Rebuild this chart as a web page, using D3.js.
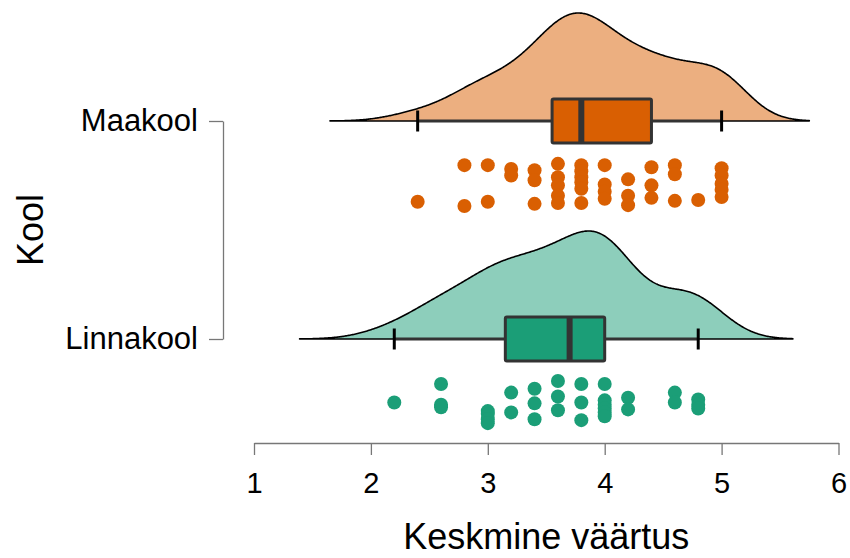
<!DOCTYPE html>
<html>
<head>
<meta charset="utf-8">
<script src="https://cdn.jsdelivr.net/npm/d3@7"></script>
<style>
  html, body { margin: 0; padding: 0; background: #fff; }
  svg { display: block; }
  text { font-family: "Liberation Sans", Arial, sans-serif; fill: #000; }
</style>
</head>
<body>
<svg id="chart" width="850" height="558"></svg>
<script>
// Group names (top to bottom) and colours
const categories = ["Maakool", "Linnakool"];
const groupColors = ["#D95F02", "#1B9E77"];

// Individual mean scores per school
const maakoolValues = [
  2.4,
  2.8, 2.8,
  3.0, 3.0,
  3.2, 3.2,
  3.4, 3.4, 3.4,
  3.6, 3.6, 3.6, 3.6, 3.6,
  3.8, 3.8, 3.8, 3.8, 3.8, 3.8,
  4.0, 4.0, 4.0, 4.0,
  4.2, 4.2, 4.2,
  4.4, 4.4, 4.4,
  4.6, 4.6, 4.6,
  4.8,
  5.0, 5.0, 5.0, 5.0, 5.0
];
// Vertical jitter of each point inside its strip (0 = top, 1 = bottom)
const maakoolJitter = [
  0.90,
  0.05, 1.00,
  0.05, 0.90,
  0.14, 0.29,
  0.17, 0.40, 0.95,
  0.02, 0.33, 0.52, 0.76, 0.93,
  0.05, 0.19, 0.33, 0.45, 0.60, 0.93,
  0.05, 0.50, 0.67, 0.83,
  0.38, 0.76, 0.98,
  0.10, 0.52, 0.81,
  0.05, 0.26, 0.88,
  0.86,
  0.12, 0.29, 0.48, 0.62, 0.79
];

const linnakoolValues = [
  2.2,
  2.6, 2.6, 2.6,
  3.0, 3.0, 3.0, 3.0,
  3.2, 3.2,
  3.4, 3.4, 3.4,
  3.6, 3.6, 3.6,
  3.8, 3.8, 3.8,
  4.0, 4.0, 4.0, 4.0, 4.0, 4.0,
  4.2, 4.2,
  4.6, 4.6,
  4.8, 4.8, 4.8
];
const linnakoolJitter = [
  0.50,
  0.07, 0.55, 0.61,
  0.70, 0.77, 0.89, 0.98,
  0.27, 0.73,
  0.18, 0.52, 0.89,
  0.00, 0.36, 0.68,
  0.07, 0.50, 0.91,
  0.07, 0.45, 0.55, 0.64, 0.73, 0.82,
  0.39, 0.66,
  0.27, 0.50,
  0.43, 0.55, 0.64
];

// Kernel bandwidths used for the density halves
const bandwidths = [0.25, 0.27];

const xTicks = [1, 2, 3, 4, 5, 6];
const xDomain = [1, 6];
const xTitle = "Keskmine väärtus";
const yTitle = "Kool";

const groups = [
  { name: categories[0], values: maakoolValues, jitter: maakoolJitter, color: groupColors[0], bw: bandwidths[0] },
  { name: categories[1], values: linnakoolValues, jitter: linnakoolJitter, color: groupColors[1], bw: bandwidths[1] }
];

// ---- layout ----
const svg = d3.select("#chart");
const x = d3.scaleLinear().domain(xDomain).range([254, 838.5]);
const y = d3.scalePoint().domain(categories).range([121, 339]);
const axisY = 443;
const axisX = 223;
const densityHeight = 108;
const jitterY = d3.scaleLinear().domain([0, 1]).range([42, 85]);

// Gaussian kernel density, evaluated 3 bandwidths past the data range
function kde(v, bw, n) {
  const lo = d3.min(v) - 3 * bw, hi = d3.max(v) + 3 * bw;
  const pts = [];
  for (let i = 0; i < n; i++) {
    const t = lo + (hi - lo) * i / (n - 1);
    let s = 0;
    for (const xi of v) {
      const u = (t - xi) / bw;
      s += Math.exp(-0.5 * u * u);
    }
    pts.push([t, s / (v.length * bw * Math.sqrt(2 * Math.PI))]);
  }
  return pts;
}

groups.forEach(g => {
  const base = y(g.name);
  const sorted = d3.sort(g.values);
  const dens = kde(sorted, g.bw, 512);
  const dmax = d3.max(dens, d => d[1]);
  const h = d3.scaleLinear().domain([0, dmax]).range([0, densityHeight]);

  // half-violin density
  const area = d3.area()
    .x(d => x(d[0]))
    .y0(base)
    .y1(d => base - h(d[1]));
  svg.append("path")
    .datum(dens)
    .attr("d", area)
    .attr("fill", g.color)
    .attr("fill-opacity", 0.5)
    .attr("stroke", "#000")
    .attr("stroke-width", 1.6)
    .attr("stroke-linejoin", "round");

  // box plot statistics
  const q1 = d3.quantileSorted(sorted, 0.25);
  const med = d3.quantileSorted(sorted, 0.5);
  const q3 = d3.quantileSorted(sorted, 0.75);
  const iqr = q3 - q1;
  const wLo = d3.min(sorted.filter(v => v >= q1 - 1.5 * iqr));
  const wHi = d3.max(sorted.filter(v => v <= q3 + 1.5 * iqr));

  svg.append("line")
    .attr("x1", x(wLo)).attr("x2", x(wHi))
    .attr("y1", base).attr("y2", base)
    .attr("stroke", "#333").attr("stroke-width", 3);
  [wLo, wHi].forEach(w => {
    svg.append("line")
      .attr("x1", x(w)).attr("x2", x(w))
      .attr("y1", base - 10.5).attr("y2", base + 10.5)
      .attr("stroke", "#000").attr("stroke-width", 3);
  });
  svg.append("rect")
    .attr("x", x(q1)).attr("width", x(q3) - x(q1))
    .attr("y", base - 22).attr("height", 44)
    .attr("rx", 1.5)
    .attr("fill", g.color)
    .attr("stroke", "#333").attr("stroke-width", 3);
  svg.append("line")
    .attr("x1", x(med)).attr("x2", x(med))
    .attr("y1", base - 22).attr("y2", base + 22)
    .attr("stroke", "#333").attr("stroke-width", 6);

  // raw points
  svg.append("g")
    .selectAll("circle")
    .data(g.values.map((v, i) => ({ v, j: g.jitter[i] })))
    .join("circle")
    .attr("cx", d => x(d.v))
    .attr("cy", d => base + jitterY(d.j))
    .attr("r", 7)
    .attr("fill", g.color);
});

// ---- axes ----
const xAxis = svg.append("g")
  .attr("transform", `translate(0,${axisY})`)
  .call(d3.axisBottom(x).tickValues(xTicks).tickFormat(d3.format("d"))
    .tickSize(12).tickSizeOuter(0).tickPadding(17));
xAxis.select(".domain").attr("stroke", "#777").attr("stroke-width", 1.3);
xAxis.selectAll(".tick line").attr("stroke", "#777").attr("stroke-width", 1.3);
xAxis.selectAll(".tick text")
  .attr("font-family", "Liberation Sans, Arial, sans-serif")
  .attr("font-size", 29).attr("fill", "#000");

const yAxis = svg.append("g")
  .attr("transform", `translate(${axisX},0)`)
  .call(d3.axisLeft(y).tickSize(14).tickSizeOuter(0).tickPadding(11));
yAxis.select(".domain").attr("stroke", "#777").attr("stroke-width", 1.3);
yAxis.selectAll(".tick line").attr("stroke", "#777").attr("stroke-width", 1.3);
yAxis.selectAll(".tick text")
  .attr("font-family", "Liberation Sans, Arial, sans-serif")
  .attr("font-size", 31).attr("fill", "#000");

svg.append("text")
  .attr("x", (x.range()[0] + x.range()[1]) / 2)
  .attr("y", 549)
  .attr("text-anchor", "middle")
  .attr("font-size", 36)
  .text(xTitle);

svg.append("text")
  .attr("transform", `translate(43,${(y.range()[0] + y.range()[1]) / 2}) rotate(-90)`)
  .attr("text-anchor", "middle")
  .attr("font-size", 36)
  .text(yTitle);
</script>
</body>
</html>
